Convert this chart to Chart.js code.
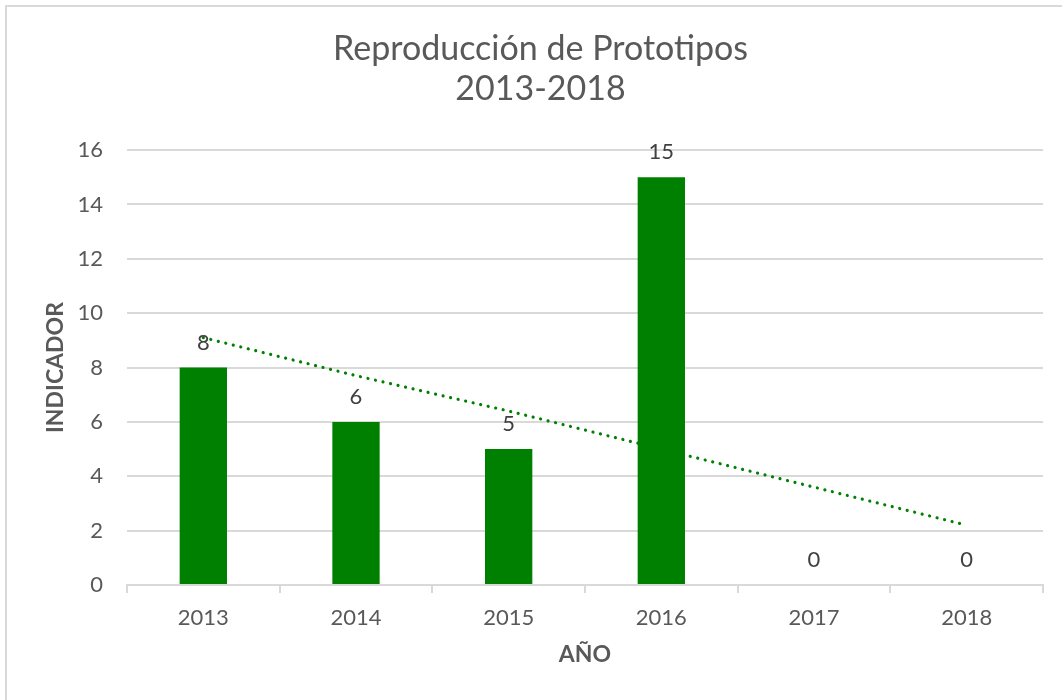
<!DOCTYPE html>
<html>
<head>
<meta charset="utf-8">
<script src="https://cdn.jsdelivr.net/npm/chart.js@4/dist/chart.umd.min.js"></script>
<style>
  html, body { margin: 0; padding: 0; background: #fff; }
  #wrap { width: 1062px; height: 700px; position: relative; }
</style>
</head>
<body>
<div id="wrap"><canvas id="myChart" width="1062" height="700"></canvas></div>
<script>
const years = ['2013', '2014', '2015', '2016', '2017', '2018'];
const prototipos = [8, 6, 5, 15, 0, 0];
// linea de tendencia
const tendencia = [9.1, 7.7, 6.4, 5.0, 3.6, 2.2];
const yTicks = [0, 2, 4, 6, 8, 10, 12, 14, 16];

const FONT = 'Lato, "Open Sans", sans-serif';
const GRAY = '#d9d9d9';
const TEXT = '#595959';

// marco gris del area del grafico
const marco = {
    id: 'marco',
    beforeDraw(chart) {
        const ctx = chart.ctx;
        ctx.save();
        ctx.fillStyle = '#fff';
        ctx.fillRect(0, 0, chart.width, chart.height);
        ctx.strokeStyle = GRAY;
        ctx.lineWidth = 2;
        ctx.strokeRect(6, 6, chart.width + 20, chart.height + 20);
        ctx.restore();
    }
};

// etiquetas de valor encima de las barras
const etiquetas = {
    id: 'etiquetas',
    afterDatasetsDraw(chart) {
        const ctx = chart.ctx;
        const meta = chart.getDatasetMeta(0);
        ctx.save();
        ctx.font = '22px ' + FONT;
        ctx.fillStyle = '#404040';
        ctx.textAlign = 'center';
        ctx.textBaseline = 'middle';
        meta.data.forEach((bar, i) => {
            ctx.fillText(String(prototipos[i]), bar.x, bar.y - 25);
        });
        ctx.restore();
    }
};

new Chart(document.getElementById('myChart').getContext('2d'), {
    type: 'bar',
    data: {
        labels: years,
        datasets: [{
            type: 'bar',
            data: prototipos,
            backgroundColor: '#008000',
            borderWidth: 0,
            barPercentage: 0.31,
            categoryPercentage: 1,
            order: 1
        }, {
            type: 'line',
            data: tendencia,
            borderColor: '#008000',
            borderWidth: 3.2,
            borderDash: [0.01, 7.7],
            borderCapStyle: 'round',
            pointRadius: 0,
            fill: false,
            tension: 0,
            order: 0
        }]
    },
    options: {
        responsive: false,
        animation: false,
        layout: { padding: { left: 38, right: 19, top: 0, bottom: 0 } },
        plugins: {
            legend: { display: false },
            tooltip: { enabled: false },
            title: {
                display: true,
                text: ['Reproducción de Prototipos', '2013-2018'],
                color: TEXT,
                font: { family: FONT, size: 34, weight: 'normal', lineHeight: 1.18 },
                padding: { top: 29, bottom: 40.8 }
            }
        },
        scales: {
            x: {
                grid: {
                    display: true,
                    drawOnChartArea: false,
                    drawTicks: true,
                    tickLength: 8,
                    color: GRAY,
                    lineWidth: 2
                },
                border: { display: true, color: GRAY, width: 2 },
                ticks: { color: TEXT, font: { family: FONT, size: 22 }, padding: 12 },
                title: {
                    display: true,
                    text: 'AÑO',
                    color: TEXT,
                    font: { family: FONT, size: 23, weight: 'bold', lineHeight: 1.2 },
                    padding: { top: 0, bottom: 32 }
                },
                afterFit(scale) { scale.height = 115; }
            },
            y: {
                min: 0,
                max: 16,
                afterBuildTicks(scale) { scale.ticks = yTicks.map(v => ({ value: v })); },
                grid: { color: GRAY, lineWidth: 2, drawTicks: false },
                border: { display: false },
                ticks: { color: TEXT, font: { family: FONT, size: 22 }, padding: 24 },
                title: {
                    display: true,
                    text: 'INDICADOR',
                    color: TEXT,
                    font: { family: FONT, size: 23, weight: 'bold', lineHeight: 1.2 },
                    padding: { top: 4, bottom: 0 }
                },
                afterFit(scale) { scale.width = 89; }
            }
        }
    },
    plugins: [marco, etiquetas]
});
</script>
</body>
</html>
